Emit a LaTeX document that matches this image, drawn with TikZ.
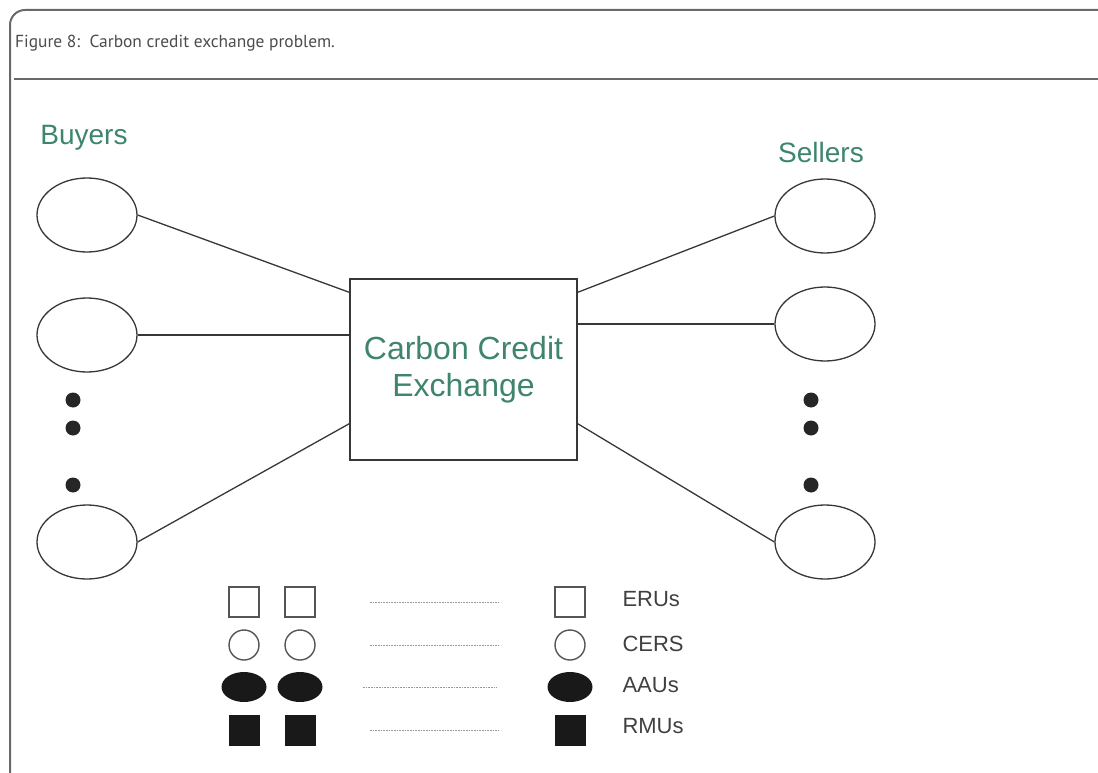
\documentclass[tikz,border=0pt]{standalone}
\usepackage{fontspec}
\setmainfont{Liberation Sans}
\newfontfamily\capfont{PT Sans}
\usetikzlibrary{shapes.geometric}

\definecolor{framegray}{RGB}{105,105,105}
\definecolor{labelgreen}{RGB}{62,132,110}
\definecolor{linegray}{RGB}{55,55,55}
\definecolor{symgray}{RGB}{85,85,85}

\begin{document}
\begin{tikzpicture}[
        x=1pt, y=-1pt,
        party/.style={draw=linegray, line width=1.3pt, ellipse, minimum width=100pt, minimum height=74pt, inner sep=0pt},
        side/.style={text=labelgreen, font=\fontsize{28}{30}\selectfont},
        link/.style={draw=linegray, line width=1.3pt},
        vdot/.style={circle, fill=black!85, minimum size=15pt, inner sep=0pt},
        erubox/.style={draw=symgray, line width=1.4pt, minimum size=30pt, inner sep=0pt},
        cerring/.style={draw=symgray, line width=1.4pt, circle, minimum size=30pt, inner sep=0pt},
        aaublob/.style={ellipse, fill=black!90, minimum width=45pt, minimum height=30pt, inner sep=0pt},
        rmubox/.style={fill=black!90, minimum size=31pt, inner sep=0pt},
        legline/.style={draw=gray!80, line width=0.9pt, dash pattern=on 1pt off 0.6pt},
        legtext/.style={anchor=west, text=black!75, font=\fontsize{22}{24}\selectfont}
    ]
    \useasboundingbox (0,0) rectangle (1098,773);

    % frame and caption
    \draw[framegray, line width=2pt, rounded corners=15pt] (10,773) -- (10,10) -- (1098,10);
    \draw[framegray, line width=1.8pt] (14,79) -- (1098,79);
    \node[anchor=base west, inner sep=0pt, text=black!70, font=\capfont\fontsize{17.4}{20}\selectfont] (caption) at (15,48) {Figure 8:\ \ Carbon credit exchange problem.};

    % buyers and sellers
    \node[side] (buyers) at (84,138) {Buyers};
    \node[side] (sellers) at (821,152) {Sellers};
    \node[party] (b1) at (87,215) {};
    \node[party] (b2) at (87,335) {};
    \node[party] (b3) at (87,542) {};
    \node[party] (s1) at (825,216) {};
    \node[party] (s2) at (825,324) {};
    \node[party] (s3) at (825,542) {};
    \foreach \n/\y in {1/400, 2/428, 3/485} {
        \node[vdot] (bd\n) at (73,\y) {};
        \node[vdot] (sd\n) at (811,\y) {};
    }

    % exchange
    \node[draw=linegray, line width=1.3pt, minimum width=227pt, minimum height=181pt, align=center,
          text=labelgreen, font=\fontsize{32}{37}\selectfont] (exch) at (463.5,369.5) {Carbon Credit\\Exchange};
    \draw[link] (b1.east) -- ([yshift=-14pt]exch.north west);
    \draw[link] (b2.east) -- (b2.east -| exch.west);
    \draw[link] (b3.east) -- ([yshift=37pt]exch.south west);
    \draw[link] (s1.west) -- ([yshift=-14pt]exch.north east);
    \draw[link] (s2.west) -- (s2.west -| exch.east);
    \draw[link] (s3.west) -- ([yshift=37pt]exch.south east);

    % legend
    \foreach \i/\x in {1/244, 2/300, 3/570} {
        \node[erubox] (eru\i) at (\x,602) {};
        \node[cerring] (cer\i) at (\x,645) {};
        \node[aaublob] (aau\i) at (\x,687) {};
        \node[rmubox] (rmu\i) at (\x,730) {};
    }
    \draw[legline] ([xshift=54pt]eru2.east) -- ([xshift=-55pt]eru3.west);
    \draw[legline] ([xshift=54pt]cer2.east) -- ([xshift=-55pt]cer3.west);
    \draw[legline] ([xshift=40pt]aau2.east) -- ([xshift=-51pt]aau3.west);
    \draw[legline] ([xshift=54pt]rmu2.east) -- ([xshift=-55pt]rmu3.west);
    \node[legtext] (erus) at (619,599) {ERUs};
    \node[legtext] (cers) at (619,644) {CERS};
    \node[legtext] (aaus) at (619,685) {AAUs};
    \node[legtext] (rmus) at (619,726) {RMUs};
\end{tikzpicture}
\end{document}
